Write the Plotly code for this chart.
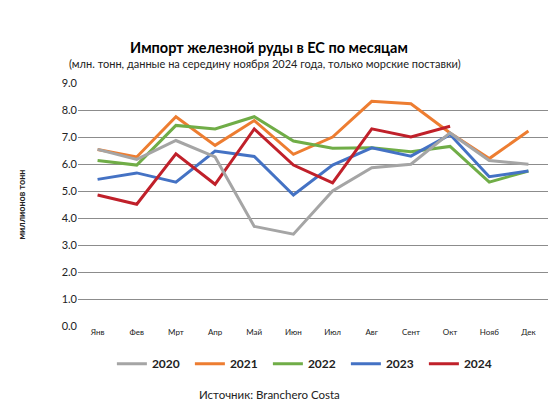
import plotly.graph_objects as go

months = ['Янв', 'Фев', 'Мрт', 'Апр', 'Май', 'Июн', 'Июл', 'Авг', 'Сент', 'Окт', 'Нояб', 'Дек']

y2020 = [6.54, 6.17, 6.87, 6.26, 3.69, 3.40, 5.00, 5.86, 5.99, 7.15, 6.13, 5.99]
y2021 = [6.54, 6.26, 7.75, 6.69, 7.61, 6.36, 7.00, 8.32, 8.23, 7.15, 6.20, 7.22]
y2022 = [6.13, 5.96, 7.43, 7.30, 7.75, 6.85, 6.58, 6.60, 6.45, 6.65, 5.33, 5.74]
y2023 = [5.43, 5.67, 5.33, 6.48, 6.28, 4.85, 5.96, 6.60, 6.29, 7.09, 5.53, 5.74]
y2024 = [4.85, 4.51, 6.38, 5.25, 7.30, 5.96, 5.30, 7.30, 7.00, 7.40]

series = [
  ('2021', y2021, '#ED7D31', 2),
  ('2022', y2022, '#70AD47', 3),
  ('2023', y2023, '#4472C4', 4),
  ('2024', y2024, '#C0202A', 5),
  ('2020', y2020, '#A5A5A5', 1),
]

fig = go.Figure()
for name, vals, color, rank in series:
  fig.add_trace(go.Scatter(
    x=months[:len(vals)], y=vals, name='<b>' + name + '</b>', mode='lines',
    line=dict(color=color, width=3), legendrank=rank
  ))

font = 'Lato'
fig.update_layout(
  width=560, height=417,
  margin=dict(l=70, r=20, t=75, b=99),
  paper_bgcolor='white', plot_bgcolor='white',
  font=dict(family=font, color='#222'),
  title=dict(
    text='<b>Импорт железной руды в ЕС по месяцам</b>',
    x=0.466, xanchor='center', y=0.905, yanchor='middle',
    font=dict(size=14.5, color='black')
  ),
  xaxis=dict(
    type='category', range=[-0.5, 11.5], showgrid=False,
    tickfont=dict(size=8, color='#222', family=font), ticks='',
    showline=False
  ),
  yaxis=dict(
    range=[0, 9], dtick=1, tickformat='.1f',
    showgrid=True, gridcolor='#8c8c8c', gridwidth=1,
    zeroline=False, tickfont=dict(size=11, color='#222'),
    title=dict(text='<b>миллионов тонн</b>', font=dict(size=9, color='#222'), standoff=34)
  ),
  legend=dict(
    orientation='h', x=0.487, xanchor='center', y=-0.155, yanchor='middle',
    font=dict(size=12, color='#222'), entrywidth=33, itemwidth=30,
    traceorder='normal'
  ),
  annotations=[
    dict(text='(млн. тонн, данные на середину ноября 2024 года, только морские поставки)',
         xref='paper', yref='paper', x=0.397, y=1.08, showarrow=False,
         font=dict(size=11, color='#222'), xanchor='center', yanchor='middle'),
    dict(text='Источник: Branchero Costa',
         xref='paper', yref='paper', x=0.407, y=-0.28, showarrow=False,
         font=dict(size=11.5, color='#222'), xanchor='center', yanchor='middle'),
  ]
)

fig.write_html('out.html')
